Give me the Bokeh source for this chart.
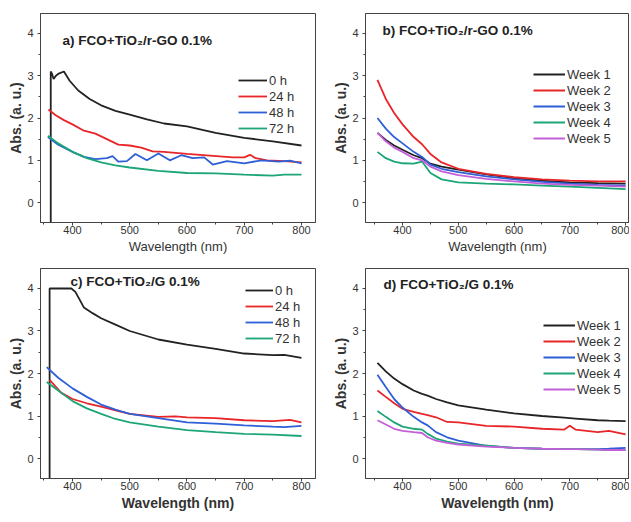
from bokeh.plotting import figure
from bokeh.models import Range1d, Legend, LegendItem, Label, FixedTicker
from bokeh.layouts import column, row
from bokeh.embed import file_html
from bokeh.resources import INLINE

# ---------------- data ----------------
# panel a: FCO+TiO2/r-GO 0.1%, hours
a_0h_x = [362, 362, 364, 367, 371, 376, 385, 395, 410, 430, 450, 475, 500, 530, 560, 600, 650, 700, 750, 800]
a_0h_y = [-1.0, 3.1, 3.05, 2.92, 3.0, 3.05, 3.1, 2.88, 2.65, 2.45, 2.3, 2.17, 2.08, 1.97, 1.87, 1.8, 1.65, 1.53, 1.45, 1.35]
a_24h_x = [358, 370, 385, 400, 420, 440, 460, 480, 500, 520, 540, 560, 600, 640, 680, 700, 710, 720, 740, 770, 800]
a_24h_y = [2.2, 2.07, 1.95, 1.85, 1.7, 1.63, 1.5, 1.37, 1.35, 1.3, 1.21, 1.2, 1.15, 1.11, 1.07, 1.07, 1.13, 1.05, 1.0, 0.98, 0.95]
a_48h_x = [357, 375, 400, 420, 440, 460, 470, 480, 495, 510, 530, 550, 570, 590, 610, 630, 645, 670, 700, 730, 760, 780, 800]
a_48h_y = [1.55, 1.37, 1.2, 1.08, 1.03, 1.05, 1.1, 0.97, 0.98, 1.15, 1.0, 1.16, 1.0, 1.12, 1.05, 1.07, 0.9, 0.98, 0.93, 1.0, 0.97, 0.99, 0.93]
a_72h_x = [357, 375, 400, 425, 450, 475, 500, 550, 600, 650, 700, 750, 770, 800]
a_72h_y = [1.58, 1.4, 1.2, 1.05, 0.95, 0.88, 0.83, 0.75, 0.7, 0.69, 0.66, 0.64, 0.66, 0.66]

# panel b: FCO+TiO2/r-GO 0.1%, weeks
b_x = [355, 370, 385, 400, 420, 435, 450, 470, 500, 550, 600, 650, 700, 750, 800]
b_w1 = [1.65, 1.48, 1.35, 1.25, 1.12, 1.05, 0.92, 0.85, 0.78, 0.67, 0.58, 0.52, 0.48, 0.46, 0.45]
b_w2 = [2.9, 2.45, 2.12, 1.85, 1.55, 1.38, 1.15, 0.95, 0.8, 0.68, 0.6, 0.55, 0.52, 0.5, 0.5]
b_w3 = [2.0, 1.75, 1.55, 1.4, 1.2, 1.08, 0.9, 0.8, 0.72, 0.62, 0.55, 0.49, 0.45, 0.42, 0.4]
b_w4 = [1.2, 1.05, 0.97, 0.93, 0.92, 0.97, 0.7, 0.55, 0.48, 0.45, 0.43, 0.4, 0.38, 0.35, 0.32]
b_w5 = [1.65, 1.45, 1.3, 1.2, 1.05, 1.0, 0.85, 0.74, 0.65, 0.56, 0.5, 0.45, 0.42, 0.4, 0.38]

# panel c: FCO+TiO2/G 0.1%, hours
c_0h_x = [360, 360, 365, 380, 398, 405, 412, 420, 435, 450, 475, 500, 550, 600, 650, 700, 750, 770, 800]
c_0h_y = [-1.0, 4.0, 4.0, 4.0, 4.0, 3.92, 3.75, 3.55, 3.42, 3.3, 3.15, 3.0, 2.8, 2.68, 2.58, 2.47, 2.43, 2.44, 2.37]
c_24h_x = [360, 380, 400, 425, 450, 475, 500, 550, 580, 600, 650, 700, 750, 780, 800]
c_24h_y = [1.85, 1.55, 1.4, 1.3, 1.22, 1.13, 1.05, 0.98, 0.99, 0.97, 0.95, 0.9, 0.88, 0.91, 0.85]
c_48h_x = [355, 375, 400, 425, 450, 475, 500, 550, 600, 650, 700, 750, 770, 800]
c_48h_y = [2.15, 1.9, 1.65, 1.45, 1.27, 1.15, 1.05, 0.95, 0.85, 0.82, 0.78, 0.75, 0.74, 0.77]
c_72h_x = [355, 375, 400, 425, 450, 475, 500, 550, 600, 650, 700, 750, 800]
c_72h_y = [1.8, 1.6, 1.35, 1.18, 1.05, 0.93, 0.85, 0.75, 0.67, 0.62, 0.58, 0.56, 0.53]

# panel d: FCO+TiO2/G 0.1%, weeks
d_x = [355, 370, 385, 400, 420, 435, 445, 460, 480, 500, 550, 600, 650, 690, 700, 710, 750, 770, 800]
d_w1 = [2.25, 2.05, 1.88, 1.75, 1.6, 1.52, 1.48, 1.4, 1.32, 1.25, 1.15, 1.06, 1.0, 0.96, 0.95, 0.94, 0.9, 0.89, 0.88]
d_w2 = [1.6, 1.45, 1.3, 1.17, 1.1, 1.05, 1.02, 0.97, 0.86, 0.85, 0.77, 0.75, 0.7, 0.68, 0.77, 0.68, 0.62, 0.65, 0.57]
d_w3 = [1.97, 1.68, 1.4, 1.2, 0.98, 0.85, 0.78, 0.62, 0.5, 0.42, 0.3, 0.25, 0.23, 0.22, 0.22, 0.22, 0.22, 0.23, 0.25]
d_w4 = [1.12, 0.98, 0.85, 0.75, 0.7, 0.68, 0.58, 0.47, 0.4, 0.35, 0.3, 0.25, 0.23, 0.22, 0.22, 0.22, 0.21, 0.2, 0.2]
d_w5 = [0.9, 0.8, 0.7, 0.65, 0.62, 0.6, 0.5, 0.42, 0.37, 0.33, 0.28, 0.25, 0.23, 0.22, 0.22, 0.22, 0.21, 0.2, 0.2]

hour_labels = ["0 h", "24 h", "48 h", "72 h"]
week_labels = ["Week 1", "Week 2", "Week 3", "Week 4", "Week 5"]
titles = ["a) FCO+TiO\u2082/r-GO 0.1%", "b) FCO+TiO\u2082/r-GO 0.1%",
          "c) FCO+TiO\u2082/G 0.1%", "d) FCO+TiO\u2082/G 0.1%"]
x_ticks = [400, 500, 600, 700, 800]
y_ticks = [0, 1, 2, 3, 4]

COLORS = ["#222222", "#e8262a", "#2f5fd6", "#1ca677", "#c35fd9"]
FONT = "Liberation Sans"
TXT = "#333333"


def make_fig(width, height, xr, bl, br, bt, bb, xlabel_bold):
    p = figure(width=width, height=height, output_backend="svg", toolbar_location=None,
               x_range=Range1d(*xr), y_range=Range1d(-0.47, 4.47),
               min_border_left=bl, min_border_right=br, min_border_top=bt, min_border_bottom=bb)
    p.xgrid.visible = False
    p.ygrid.visible = False
    p.outline_line_color = "#444444"
    p.outline_line_width = 1
    p.xaxis.ticker = FixedTicker(ticks=x_ticks, minor_ticks=[350, 450, 550, 650, 750])
    p.yaxis.ticker = FixedTicker(ticks=y_ticks, minor_ticks=[-0.5, 0.5, 1.5, 2.5, 3.5])
    for ax in (p.xaxis[0], p.yaxis[0]):
        ax.axis_line_color = "#444444"
        ax.major_tick_line_color = "#444444"
        ax.minor_tick_line_color = "#444444"
        ax.major_tick_out = 3
        ax.major_tick_in = 0
        ax.minor_tick_out = 2
        ax.minor_tick_in = 0
        ax.major_label_text_font = FONT
        ax.major_label_text_font_size = "11px"
        ax.major_label_text_color = TXT
        ax.axis_label_text_font = FONT
        ax.axis_label_text_color = TXT
    p.xaxis.major_label_standoff = 0
    p.yaxis.major_label_standoff = 4
    p.xaxis.axis_label = "Wavelength (nm)"
    p.xaxis.axis_label_text_font_style = "bold" if xlabel_bold else "normal"
    p.xaxis.axis_label_text_font_size = "14px" if xlabel_bold else "13px"
    p.xaxis.axis_label_standoff = 2
    p.yaxis.axis_label = "Abs. (a. u.)"
    p.yaxis.axis_label_text_font_style = "bold"
    p.yaxis.axis_label_text_font_size = "14px"
    p.yaxis.axis_label_standoff = 0
    return p


def add_legend(p, renderers, labels, x, y, glyph_w):
    items = [LegendItem(label=l, renderers=[r]) for l, r in zip(labels, renderers)]
    lg = Legend(items=items, location=(x, y), padding=0, margin=0, spacing=0,
                glyph_width=glyph_w, glyph_height=16, label_height=16,
                label_standoff=2, label_text_font=FONT, label_text_font_size="13px",
                label_text_color=TXT, border_line_color=None, background_fill_alpha=0)
    p.add_layout(lg)


def add_title(p, text, x, y):
    p.add_layout(Label(x=x, y=y, x_units="screen", y_units="screen", text=text,
                       text_font=FONT, text_font_style="bold", text_font_size="13.5px",
                       text_color="#222222", text_baseline="middle"))


# panel a
pa = make_fig(318, 258, (344.1, 824.5), 40, 3, 13, 36, False)
ra = [pa.line(xs, ys, line_color=c, line_width=1.8)
      for xs, ys, c in zip([a_0h_x, a_24h_x, a_48h_x, a_72h_x],
                           [a_0h_y, a_24h_y, a_48h_y, a_72h_y], COLORS)]
add_legend(pa, ra, hour_labels, 198, 86, 29)
add_title(pa, titles[0], 22, 182)

# panel b
pb = make_fig(311, 258, (333.6, 807), 47, 0, 13, 36, False)
rb = [pb.line(b_x, ys, line_color=c, line_width=1.8)
      for ys, c in zip([b_w1, b_w2, b_w3, b_w4, b_w5], COLORS)]
add_legend(pb, rb, week_labels, 168, 76, 32)
add_title(pb, titles[1], 17, 192)

# panel c
pc = make_fig(318, 262, (344.1, 824.5), 40, 3, 10, 42, True)
rc = [pc.line(xs, ys, line_color=c, line_width=1.8)
      for xs, ys, c in zip([c_0h_x, c_24h_x, c_48h_x, c_72h_x],
                           [c_0h_y, c_24h_y, c_48h_y, c_72h_y], COLORS)]
add_legend(pc, rc, hour_labels, 205, 132, 28)
add_title(pc, titles[2], 30, 197)

# panel d
pd_ = make_fig(311, 262, (333.6, 807), 47, 0, 10, 42, True)
rd = [pd_.line(d_x, ys, line_color=c, line_width=1.8)
      for ys, c in zip([d_w1, d_w2, d_w3, d_w4, d_w5], COLORS)]
add_legend(pd_, rd, week_labels, 178, 81, 32)
add_title(pd_, titles[3], 18, 194)

layout = column(row(pa, pb), row(pc, pd_))
open("out.html", "w").write(file_html(layout, INLINE))
